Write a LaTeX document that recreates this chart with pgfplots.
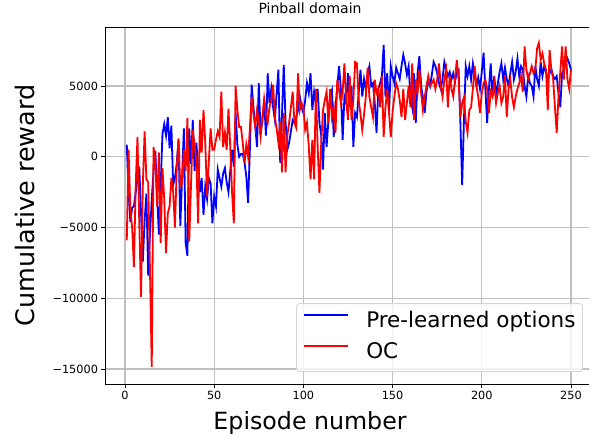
\documentclass[border=0pt]{standalone}
\usepackage{fontspec}
\setmainfont{DejaVu Sans}
\usepackage{pgfplots}
\usepackage{pgfplotstable}
\pgfplotsset{compat=1.18}
\definecolor{gridc}{RGB}{192,192,192}
\definecolor{legc}{RGB}{214,214,214}
\pgfplotstableread{
ep blue red
1 850 -5900
2 -2500 500
3 -4600 -3750
4 -3600 -5000
5 -3500 -7800
6 -2500 -2000
7 -1500 1400
8 -700 -4700
9 -4000 -9900
10 -7400 -2000
11 -4500 1800
12 -2600 -1600
13 -8400 -1800
14 -5500 -8000
15 -3000 -14850
16 -1000 700
17 400 -300
18 -2800 -3500
19 -5500 300
20 -2000 -6100
21 1600 -800
22 2300 -3000
23 1500 -6800
24 2800 -4000
25 600 -3500
26 2200 -1500
27 -2000 -2500
28 -1500 -5000
29 -500 -800
30 1200 1300
31 -4900 -2100
32 -1500 -1900
33 2000 500
34 -6100 -1000
35 -7000 2750
36 2000 -6000
37 -500 -2000
38 2600 1900
39 -1000 800
40 1000 -300
41 -800 -4700
42 -2500 2600
43 -1500 300
44 -4100 3300
45 -2100 1000
46 -3000 -2800
47 -1500 -300
48 -1900 2000
49 -4700 500
50 -2800 500
51 -3500 1200
52 -900 1800
53 -1500 1400
54 -2100 4600
55 -1200 700
56 -800 1700
57 -1800 500
58 -2500 3400
59 -1000 700
60 500 -2500
61 -700 -4700
62 3100 5000
63 850 3300
64 0 2100
65 200 2100
66 200 1000
67 -400 -450
68 -1400 850
69 -3250 0
70 500 2000
71 5100 4250
72 3500 3000
73 2200 2100
74 700 3300
75 5200 2500
76 1700 1400
77 2500 2800
78 4000 4100
79 1500 3000
80 5900 2400
81 3800 3500
82 4800 4000
83 3500 5100
84 2600 2800
85 4500 2000
86 6150 1000
87 -450 2500
88 3000 -1100
89 6500 3100
90 2500 -1100
91 500 1500
92 1000 2400
93 1800 3500
94 2600 4600
95 2400 2400
96 2800 2050
97 3300 5900
98 4250 3300
99 3500 3800
100 3100 3500
101 4000 1900
102 5200 2400
103 4500 800
104 5900 -1600
105 3300 1200
106 4600 -1600
107 3800 4800
108 4800 700
109 2400 -2550
110 1500 1000
111 -900 3300
112 3100 4000
113 700 4600
114 2500 2400
115 4250 4800
116 4700 2800
117 1400 3500
118 3500 1700
119 5000 5450
120 6400 4700
121 4800 3800
122 1200 4600
123 4250 6600
124 3800 4000
125 5900 2600
126 3500 5700
127 5000 2600
128 700 4000
129 3100 6700
130 2800 6600
131 4500 4000
132 6150 3000
133 4250 1900
134 5500 3000
135 4800 4250
136 5900 6300
137 6400 4250
138 5000 3500
139 5200 2800
140 3800 5450
141 1700 4500
142 4800 4800
143 5200 3500
144 5700 5700
145 7900 1400
146 4250 3500
147 5900 4800
148 3100 3100
149 6400 1400
150 5700 3200
151 5200 4250
152 6300 5200
153 5900 4800
154 5500 4000
155 6400 2800
156 7200 4800
157 6600 2600
158 5800 3800
159 6400 5000
160 4250 3500
161 3500 6600
162 5900 2600
163 2400 5450
164 5900 4500
165 7100 6150
166 5000 4500
167 4200 3300
168 3100 4250
169 4600 5000
170 5400 5700
171 5000 5000
172 5800 5200
173 6700 5450
174 6400 4800
175 5900 5450
176 5200 6600
177 4800 5000
178 5500 4250
179 6700 5450
180 6150 6150
181 5700 3500
182 6000 5700
183 5450 4800
184 5900 4250
185 5300 5500
186 6000 6850
187 6150 5450
188 2400 2800
189 -2000 3800
190 2600 4200
191 6400 2500
192 5700 1700
193 6400 3300
194 5450 3500
195 6600 4800
196 5800 6400
197 5000 5000
198 5600 4250
199 4800 3100
200 6000 4500
201 7350 5200
202 4800 5450
203 2400 4800
204 4800 3100
205 6600 4600
206 4250 4250
207 5700 5200
208 4250 3800
209 5200 4500
210 6000 5000
211 6600 3800
212 5450 4250
213 6300 5700
214 5500 2800
215 5000 4800
216 5900 5450
217 6700 4200
218 5450 3500
219 6000 4250
220 6950 4800
221 5700 5200
222 6400 5700
223 6150 4600
224 5000 7800
225 4250 6150
226 5700 5500
227 5200 5900
228 5000 6400
229 4250 5900
230 6400 6150
231 5500 7650
232 5000 8050
233 6700 6850
234 5700 7300
235 6400 6600
236 6000 6150
237 5450 3300
238 5900 7550
239 6200 6150
240 5700 5500
241 5500 3500
242 5700 1700
243 4500 4250
244 3500 6000
245 5900 7800
246 6200 5450
247 6600 7800
248 6950 5500
249 6600 4800
250 6150 6150
}\data
\begin{document}
\begin{tikzpicture}
\begin{axis}[
  scale only axis,
  width=488.2pt, height=357pt,
  xmin=-11.21, xmax=262.45,
  ymin=-16060, ymax=9172,
  scaled x ticks=false, scaled y ticks=false,
  tick pos=left,
  tick align=outside,
  major tick length=3.5pt,
  xtick={0,50,100,150,200,250},
  xticklabels={0,50,100,150,200,250},
  ytick={-15000,-10000,-5000,0,5000},
  yticklabels={−15000,−10000,−5000,0,5000},
  tick label style={font=\fontsize{11.3}{13}\selectfont},
  grid=major,
  major grid style={line width=1.1pt, draw=gridc},
  axis line style={line width=0.9pt, black},
  every tick/.style={black, line width=0.8pt},
  title={Pinball domain},
  title style={at={(axis description cs:0.42,1)}, anchor=base, yshift=7.5pt, font=\fontsize{14}{16}\selectfont},
  xlabel={Episode number},
  xlabel style={at={(axis description cs:0.42,0)}, anchor=base, yshift=-45.5pt, font=\fontsize{23.7}{28}\selectfont},
  ylabel={Cumulative reward},
  ylabel style={at={(axis description cs:-0.1434,0.5)}, anchor=base, font=\fontsize{25.5}{30}\selectfont},
  legend style={at={(axis description cs:0.979,0.0336)}, anchor=south east,
    font=\fontsize{21.5}{25}\selectfont, draw=legc, line width=0.8pt,
    rounded corners=3pt, fill=white, fill opacity=0.8, text opacity=1,
    inner xsep=7pt, inner ysep=8pt,
    nodes={inner sep=0pt, text height=16pt, text depth=5pt},
    /tikz/column sep=17pt, /tikz/row sep=10pt},
  legend cell align=left,
  legend image code/.code={\draw[#1, line width=1.8pt] (0pt,7pt) -- (44pt,7pt);},
]
\addplot[blue, line width=1.8pt] table[x=ep, y=blue] {\data};
\addlegendentry{Pre-learned options}
\addplot[red, line width=1.8pt] table[x=ep, y=red] {\data};
\addlegendentry{OC}
\coordinate (SW) at (rel axis cs:0,0);
\coordinate (NW) at (rel axis cs:0,1);
\end{axis}
\pgfresetboundingbox
\path[use as bounding box] ([xshift=-105pt,yshift=-52pt]SW) rectangle ([xshift=484pt,yshift=27pt]NW);
\end{tikzpicture}
\end{document}
